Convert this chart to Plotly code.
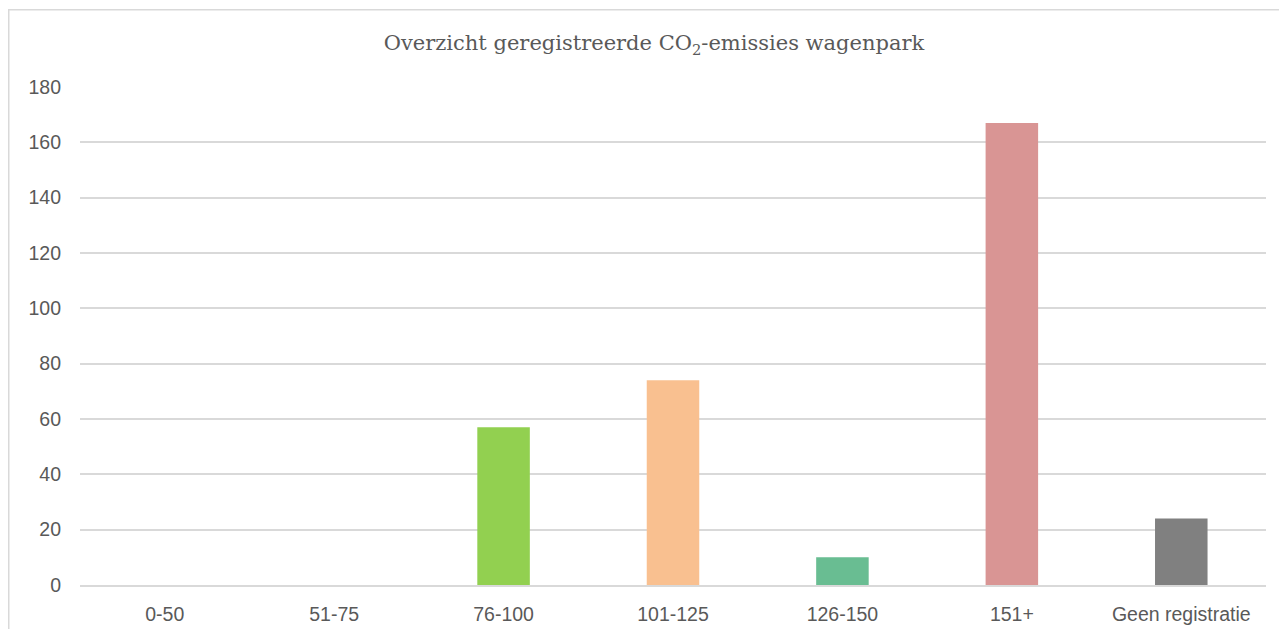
import plotly.graph_objects as go

# CO2 emission classes (g/km) and number of registered vehicles
categories = ["0-50", "51-75", "76-100", "101-125", "126-150", "151+", "Geen registratie"]
vehicle_counts = [0, 0, 57, 74, 10, 167, 24]
bar_colors = ["#92D050", "#92D050", "#92D050", "#F9C090", "#69BD92", "#D99594", "#808080"]
y_ticks = [0, 20, 40, 60, 80, 100, 120, 140, 160, 180]

# the page body has an 8px margin, so the figure starts at (8, 8)
W, H = 1271, 621
left, right, top, bottom = 72, 13, 79, 44
plot_w = W - left - right
plot_h = H - top - bottom

fig = go.Figure(go.Bar(
    x=categories,
    y=vehicle_counts,
    marker=dict(color=bar_colors, line=dict(width=0)),
    hoverinfo="x+y",
))

# light frame round the chart, like the spreadsheet chart border
fig.add_shape(
    type="rect", xref="paper", yref="paper",
    x0=(0.75 - left) / plot_w, x1=1.2,
    y0=-0.3, y1=(H - bottom - 1.75) / plot_h,
    line=dict(color="#D9D9D9", width=1.5),
    layer="below",
)

fig.update_layout(
    width=W,
    height=H,
    margin=dict(l=left, r=right, t=top, b=bottom),
    paper_bgcolor="white",
    plot_bgcolor="white",
    bargap=0.69,
    showlegend=False,
    title=dict(
        text="Overzicht geregistreerde CO<sub>2</sub>-emissies wagenpark",
        x=(654 - 8) / W, xanchor="center",
        y=1 - (43 - 8) / H, yanchor="middle",
        font=dict(family="DejaVu Serif", size=21, color="#595959"),
    ),
    font=dict(family="Liberation Sans", size=19.5, color="#595959"),
)

fig.update_xaxes(
    automargin=False,
    showgrid=False,
    showline=True, linecolor="#D9D9D9", linewidth=1.5,
    ticks="", ticklabelstandoff=11,
    tickfont=dict(size=19.5, color="#595959"),
)
fig.update_yaxes(
    automargin=False,
    range=[0, 180],
    tickvals=y_ticks,
    showgrid=True, gridcolor="#D9D9D9", gridwidth=1.5,
    zeroline=False, showline=False,
    ticks="", ticklabelstandoff=18,
    tickfont=dict(size=19.5, color="#595959"),
)

fig.write_html("out.html")
